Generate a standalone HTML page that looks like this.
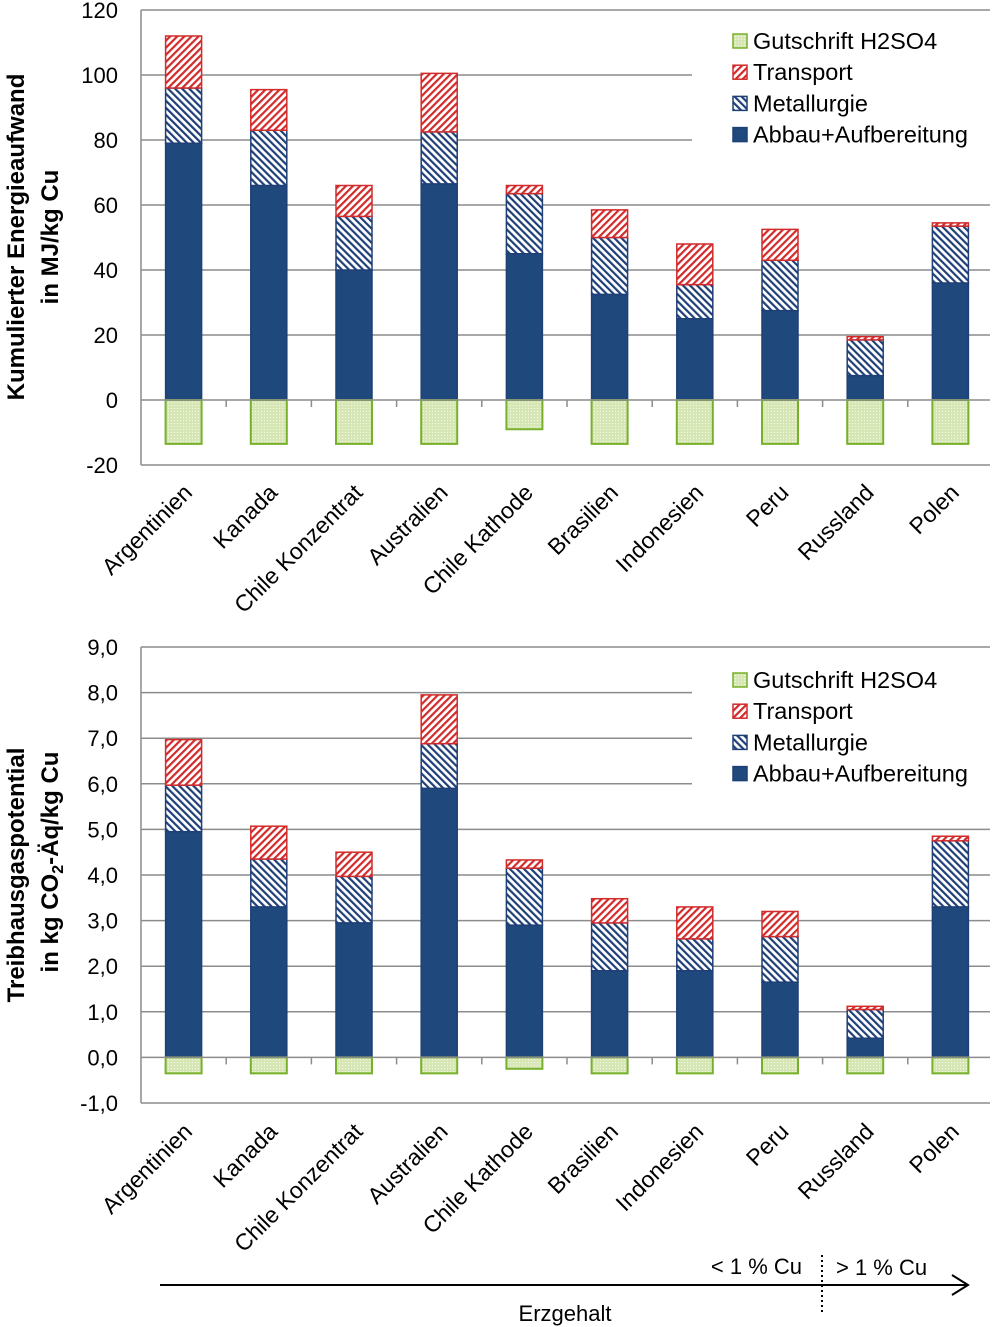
<!DOCTYPE html>
<html><head><meta charset="utf-8">
<style>
html,body{margin:0;padding:0;background:#fff;}
svg{display:block;font-family:"Liberation Sans",sans-serif;}
</style></head>
<body>
<svg id="chart" width="992" height="1327" viewBox="0 0 992 1327" xmlns="http://www.w3.org/2000/svg">
<defs>
<pattern id="pRed" patternUnits="userSpaceOnUse" width="5" height="5" patternTransform="rotate(45)">
<rect width="5" height="5" fill="#fff"/><rect width="2.2" height="5" fill="#d22b2b"/></pattern>
<pattern id="pBlue" patternUnits="userSpaceOnUse" width="5" height="5" patternTransform="rotate(-45)">
<rect width="5" height="5" fill="#fff"/><rect width="2.2" height="5" fill="#1f3f77"/></pattern>
<pattern id="pGreen" patternUnits="userSpaceOnUse" width="3" height="3">
<rect width="3" height="3" fill="#d6e6b4"/><rect width="1" height="1" fill="#f2f7e6"/></pattern>
</defs>
<g id="top"></g>
<g id="bot"></g>
<g>
<line x1="160" y1="1285" x2="966" y2="1285" stroke="#000" stroke-width="2"/>
<polyline points="952,1275 968,1285 952,1295" fill="none" stroke="#000" stroke-width="2"/>
<line x1="822" y1="1255" x2="822" y2="1313" stroke="#000" stroke-width="2" stroke-dasharray="2,3"/>
<text x="802" y="1274" font-size="22" text-anchor="end">&lt; 1 % Cu</text>
<text x="836" y="1275" font-size="22">&gt; 1 % Cu</text>
<text x="565" y="1321" font-size="22" text-anchor="middle">Erzgehalt</text>
</g>
</svg>
<script>
const categories=["Argentinien","Kanada","Chile Konzentrat","Australien","Chile Kathode","Brasilien","Indonesien","Peru","Russland","Polen"];
const energyAbbau=[79,66,40,66.5,45,32.5,25,27.5,7.5,36];
const energyMetallurgie=[17,17,16.5,16,18.5,17.5,10.5,15.5,11,17.5];
const energyTransport=[16,12.5,9.5,18,2.5,8.5,12.5,9.5,1,1];
const energyGutschrift=[-13.5,-13.5,-13.5,-13.5,-9,-13.5,-13.5,-13.5,-13.5,-13.5];
const energyTicks=[120,100,80,60,40,20,0,-20];
const ghgAbbau=[4.95,3.3,2.95,5.9,2.9,1.9,1.9,1.65,0.42,3.3];
const ghgMetallurgie=[1.02,1.05,1.02,0.98,1.25,1.05,0.7,1.0,0.63,1.45];
const ghgTransport=[1.0,0.72,0.53,1.07,0.18,0.53,0.7,0.55,0.07,0.1];
const ghgGutschrift=[-0.35,-0.35,-0.35,-0.35,-0.25,-0.35,-0.35,-0.35,-0.35,-0.35];
const ghgTicks=[9,8,7,6,5,4,3,2,1,0,-1];
const legendLabels=["Gutschrift H2SO4","Transport","Metallurgie","Abbau+Aufbereitung"];

const NS="http://www.w3.org/2000/svg";
function mk(parent,tag,attrs,txt){const e=document.createElementNS(NS,tag);for(const k in attrs)e.setAttribute(k,attrs[k]);if(txt!==undefined)e.textContent=txt;parent.appendChild(e);return e;}

function drawChart(g,cfg){
  const yv=v=>cfg.y0+(cfg.yMax-v)/(cfg.yMax-cfg.yMin)*(cfg.y1-cfg.y0);
  const xL=141, xR=990, step=85.2;
  const xc=i=>xL+step*(i+0.5);
  cfg.ticks.forEach(t=>{
    if(t!==0){const l=mk(g,'line',{x1:xL,x2:xR,y1:yv(t),y2:yv(t),stroke:'#8c8c8c','stroke-width':1.5});
    
    }
    const tx=mk(g,'text',{x:118,y:yv(t)+8,'font-size':22,'text-anchor':'end'},cfg.fmt(t));
    
    
  });
  mk(g,'line',{x1:xL,x2:xL,y1:cfg.y0,y2:cfg.y1,stroke:'#8c8c8c','stroke-width':1.5});
  mk(g,'rect',{x:692,y:cfg.legY-20,width:298,height:128,fill:'#fff'});
  const bw=36;
  categories.forEach((c,i)=>{
    const x=xc(i)-bw/2;
    let base=0;
    const segs=[[cfg.abbau[i],'#1f497d','#1f3f77','bar-abbau'],[cfg.met[i],'url(#pBlue)','#1f3f77','bar-metallurgie'],[cfg.trans[i],'url(#pRed)','#d22b2b','bar-transport']];
    segs.forEach(s=>{
      const r=mk(g,'rect',{x:x,y:yv(base+s[0]),width:bw,height:yv(base)-yv(base+s[0]),fill:s[1],stroke:s[2],'stroke-width':1.5});
      
      
      base+=s[0];
    });
    const gr=mk(g,'rect',{x:x,y:yv(0),width:bw,height:yv(cfg.gut[i])-yv(0),fill:'url(#pGreen)',stroke:'#77b02b','stroke-width':2});
    
    
    const lb=mk(g,'text',{x:0,y:0,'font-size':23,'text-anchor':'end',transform:`translate(${xc(i)+10},${cfg.labY}) rotate(-45)`},c);
    
    
  });
  mk(g,'line',{x1:xL,x2:xR,y1:yv(0),y2:yv(0),stroke:'#8c8c8c','stroke-width':1.5});
  for(let i=1;i<categories.length;i++) mk(g,'line',{x1:xL+step*i,x2:xL+step*i,y1:yv(0),y2:yv(0)+7,stroke:'#8c8c8c','stroke-width':1.5});
  const fills=['url(#pGreen)','url(#pRed)','url(#pBlue)','#1f497d'];
  const strokes=['#77b02b','#d22b2b','#1f3f77','#1f3f77'];
  legendLabels.forEach((l,k)=>{
    const y=cfg.legY+k*31.2;
    mk(g,'rect',{x:733,y:y-13,width:14,height:14,fill:fills[k],stroke:strokes[k],'stroke-width':1.5});
    const t=mk(g,'text',{x:753,y:y+2,'font-size':23.5},l);
    
    
  });
}

drawChart(document.getElementById('top'),{y0:10,y1:465,yMax:120,yMin:-20,ticks:energyTicks,fmt:t=>String(t),
  abbau:energyAbbau,met:energyMetallurgie,trans:energyTransport,gut:energyGutschrift,labY:494,legY:47});
drawChart(document.getElementById('bot'),{y0:647,y1:1103,yMax:9,yMin:-1,ticks:ghgTicks,fmt:t=>t.toFixed(1).replace('.',','),
  abbau:ghgAbbau,met:ghgMetallurgie,trans:ghgTransport,gut:ghgGutschrift,labY:1133,legY:686});

const svg=document.getElementById('chart');
const t1=mk(svg,'text',{x:0,y:0,'font-size':24,'font-weight':'bold','text-anchor':'middle',transform:'translate(24,237) rotate(-90)'},'Kumulierter Energieaufwand');


const t2=mk(svg,'text',{x:0,y:0,'font-size':24,'font-weight':'bold','text-anchor':'middle',transform:'translate(58,237) rotate(-90)'},'in MJ/kg Cu');


const t3=mk(svg,'text',{x:0,y:0,'font-size':24,'font-weight':'bold','text-anchor':'middle',transform:'translate(24,875) rotate(-90)'},'Treibhausgaspotential');


const t4=mk(svg,'text',{x:0,y:0,'font-size':24,'font-weight':'bold','text-anchor':'middle',transform:'translate(58,862) rotate(-90)'});


mk(t4,'tspan',{},'in kg CO');
mk(t4,'tspan',{'font-size':16,dy:5},'2');
mk(t4,'tspan',{dy:-5},'-Äq/kg Cu');
</script>
</body></html>
